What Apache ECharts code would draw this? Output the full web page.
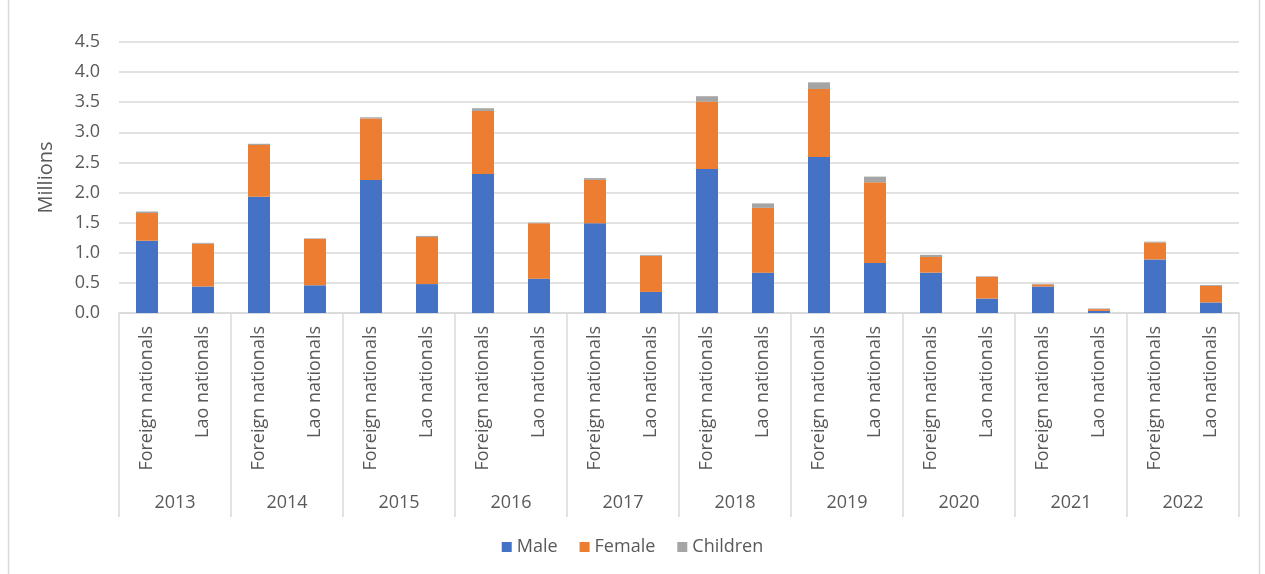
<!DOCTYPE html>
<html>
<head>
<meta charset="utf-8">
<script src="https://cdn.jsdelivr.net/npm/echarts@6/dist/echarts.min.js"></script>
<style>
html,body{margin:0;padding:0;background:#fff;}
#chart{width:1265px;height:574px;}
</style>
</head>
<body>
<div id="chart"></div>
<script>
var years = ['2013','2014','2015','2016','2017','2018','2019','2020','2021','2022'];
var groups = ['Foreign nationals','Lao nationals'];
var male =     [1.20,0.44, 1.93,0.46, 2.21,0.48, 2.31,0.57, 1.49,0.35, 2.39,0.67, 2.59,0.83, 0.67,0.24, 0.44,0.035, 0.89,0.175];
var female =   [0.46,0.71, 0.86,0.77, 1.02,0.78, 1.045,0.92, 0.72,0.60, 1.12,1.075, 1.13,1.34, 0.26,0.36, 0.035,0.03, 0.28,0.275];
var children = [0.025,0.015, 0.02,0.01, 0.02,0.02, 0.045,0.01, 0.03,0.015, 0.09,0.075, 0.11,0.095, 0.035,0.01, 0.01,0.01, 0.015,0.015];
var yTicks = {min:0, max:4.5, interval:0.5};

var cats = [];
years.forEach(function(y){ groups.forEach(function(g){ cats.push(g); }); });

var font = 'Open Sans';
var txt = '#595959';
var chart = echarts.init(document.getElementById('chart'));
chart.setOption({
  animation:false,
  textStyle:{fontFamily:font},
  graphic:[{type:'rect', shape:{x:8.5,y:-5,width:1251,height:590}, style:{fill:'none', stroke:'#d9d9d9', lineWidth:1.5}}],
  grid:{left:119, right:26, top:42, bottom:261},
  legend:{bottom:13, left:'center', icon:'rect', itemWidth:10, itemHeight:10, itemGap:22,
    textStyle:{color:txt, fontSize:18, fontFamily:font}},
  xAxis:[
    {type:'category', data:cats, boundaryGap:true,
     axisLine:{lineStyle:{color:'#d9d9d9', width:1.5}},
     axisTick:{show:false},
     axisLabel:{rotate:90, interval:0, margin:13, color:txt, fontSize:18, fontFamily:font}},
    {type:'category', data:years, position:'bottom', offset:204, boundaryGap:true,
     axisLine:{show:false},
     axisTick:{show:true, inside:true, length:204, lineStyle:{color:'#d9d9d9', width:1.5}},
     axisLabel:{interval:0, margin:-23, color:txt, fontSize:18, fontFamily:font}}
  ],
  yAxis:{type:'value', min:yTicks.min, max:yTicks.max, interval:yTicks.interval,
    name:'Millions', nameLocation:'middle', nameGap:63, nameRotate:90,
    nameTextStyle:{color:txt, fontSize:20, fontFamily:font},
    axisLine:{show:false}, axisTick:{show:false},
    axisLabel:{color:txt, fontSize:18, margin:19, formatter:function(v){return v.toFixed(1);}},
    splitLine:{lineStyle:{color:'#d9d9d9', width:1.5}}},
  series:[
    {name:'Male', type:'bar', stack:'a', data:male, barWidth:22, itemStyle:{color:'#4472C4'}},
    {name:'Female', type:'bar', stack:'a', data:female, barWidth:22, itemStyle:{color:'#ED7D31'}},
    {name:'Children', type:'bar', stack:'a', data:children, barWidth:22, itemStyle:{color:'#A5A5A5'}}
  ]
});
</script>
</body>
</html>
